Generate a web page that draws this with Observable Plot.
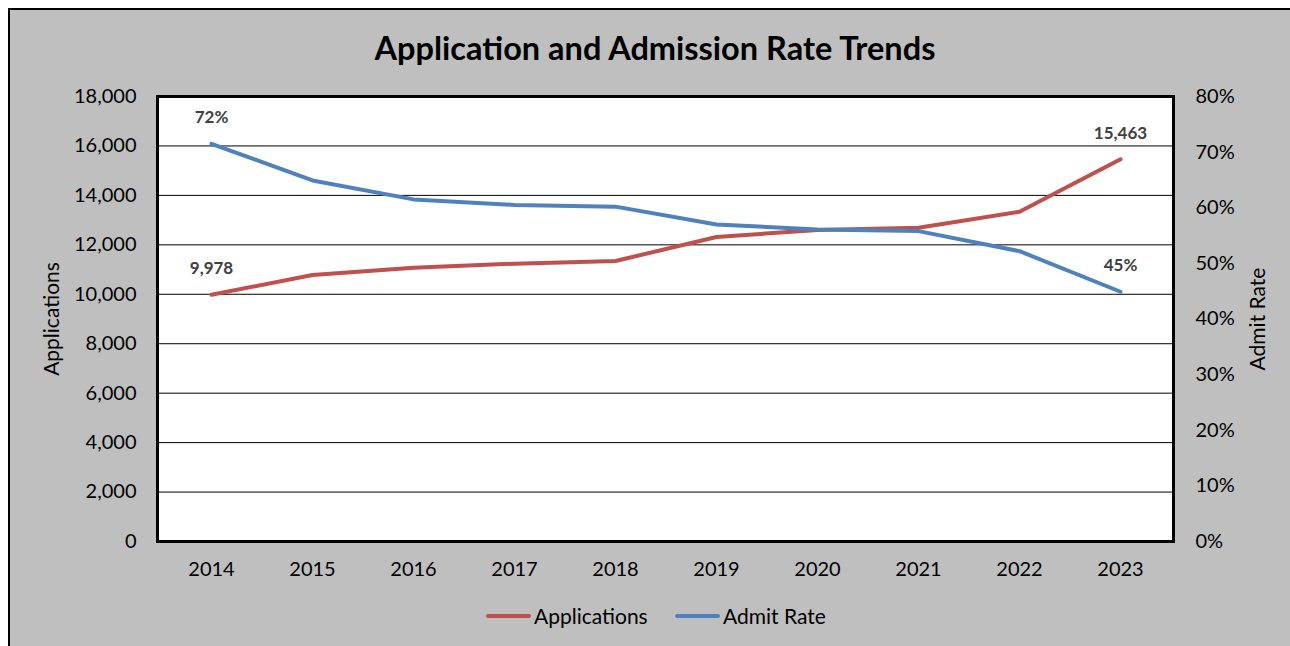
<!DOCTYPE html>
<html>
<head>
<meta charset="utf-8">
<script src="https://cdn.jsdelivr.net/npm/d3@7"></script>
<script src="https://cdn.jsdelivr.net/npm/@observablehq/plot@0.6"></script>
<style>
  body { margin: 0; background: #fff; font-family: Lato, "Open Sans", sans-serif; }
  #box { position: absolute; left: 8px; top: 8px; width: 1300px; height: 660px; background: #bfbfbf; border: 2px solid #000; overflow: hidden; }
  #title { position: absolute; left: 0; width: 1290px; top: 18px; height: 40px; line-height: 40px; text-align: center; font-weight: 700; font-size: 32.5px; color: #000; }
  #chart { position: absolute; left: 0; top: 70px; }
  .leg { position: absolute; top: 590px; height: 32px; line-height: 32px; font-size: 21px; color: #000; display: flex; align-items: center; }
  .leg i { display: inline-block; width: 45px; height: 4px; border-radius: 2px; margin-right: 3px; }
</style>
</head>
<body>
<div id="box">
  <div id="title">Application and Admission Rate Trends</div>
  <div id="chart"></div>
  <div class="leg" style="left:476px"><i style="background:#c0504d"></i>Applications</div>
  <div class="leg" style="left:665px"><i style="background:#4f81bd"></i>Admit Rate</div>
</div>
<script>
const years = ["2014","2015","2016","2017","2018","2019","2020","2021","2022","2023"];
const applications = [9978, 10781, 11076, 11238, 11347, 12318, 12600, 12694, 13341, 15463];
const admitRate = [71.5, 64.9, 61.5, 60.5, 60.2, 57.0, 56.1, 55.8, 52.2, 44.9];
const leftTicks = [0, 2000, 4000, 6000, 8000, 10000, 12000, 14000, 16000, 18000];
const rightTicks = [0, 10, 20, 30, 40, 50, 60, 70, 80];

const scaleK = 18000 / 80; // maps admit-rate % onto application axis
const apps = years.map((y, i) => ({year: y, v: applications[i]}));
const rate = years.map((y, i) => ({year: y, r: admitRate[i], v: admitRate[i] * scaleK}));
const lastI = years.length - 1;
const font = "Lato, 'Open Sans', sans-serif";

const plot = Plot.plot({
  width: 1280,
  height: 520,
  marginLeft: 147,
  marginRight: 117,
  marginTop: 16,
  marginBottom: 59,
  style: { fontFamily: font, background: "transparent", color: "#000" },
  x: { type: "point", domain: years, padding: 0.5 },
  y: { domain: [0, 18000] },
  marks: [
    Plot.frame({ fill: "#fff", stroke: null }),
    Plot.ruleY(leftTicks, { stroke: "#000", strokeWidth: 1, strokeOpacity: 1 }),
    Plot.frame({ stroke: "#000", strokeWidth: 3 }),
    Plot.axisX({ tickSize: 0, tickPadding: 20, fontSize: 20, label: null }),
    Plot.axisY({ anchor: "left", ticks: leftTicks, tickSize: 0, tickPadding: 21, fontSize: 20,
      tickFormat: d => d3.format(",")(d), label: null }),
    Plot.axisY({ anchor: "right", ticks: rightTicks.map(t => t * scaleK), tickSize: 0, tickPadding: 22, fontSize: 20,
      tickFormat: d => Math.round(d / scaleK) + "%", label: null }),
    Plot.text(["Applications"], { frameAnchor: "left", textAnchor: "middle", rotate: -90, dx: -105, fontSize: 21, fill: "#000" }),
    Plot.text(["Admit Rate"], { frameAnchor: "right", textAnchor: "middle", rotate: -90, dx: 85, fontSize: 21, fill: "#000" }),
    Plot.line(apps, { x: "year", y: "v", stroke: "#c0504d", strokeWidth: 4, strokeLinecap: "round", strokeLinejoin: "round" }),
    Plot.line(rate, { x: "year", y: "v", stroke: "#4f81bd", strokeWidth: 4, strokeLinecap: "round", strokeLinejoin: "round" }),
    Plot.text([apps[0], apps[lastI]], { x: "year", y: "v", dy: -26, text: d => d3.format(",")(d.v), fill: "#404040", fontWeight: "bold", fontSize: 17 }),
    Plot.text([rate[0], rate[lastI]], { x: "year", y: "v", dy: -26, text: d => Math.round(d.r) + "%", fill: "#404040", fontWeight: "bold", fontSize: 17 })
  ]
});
document.getElementById("chart").appendChild(plot);
</script>
</body>
</html>
